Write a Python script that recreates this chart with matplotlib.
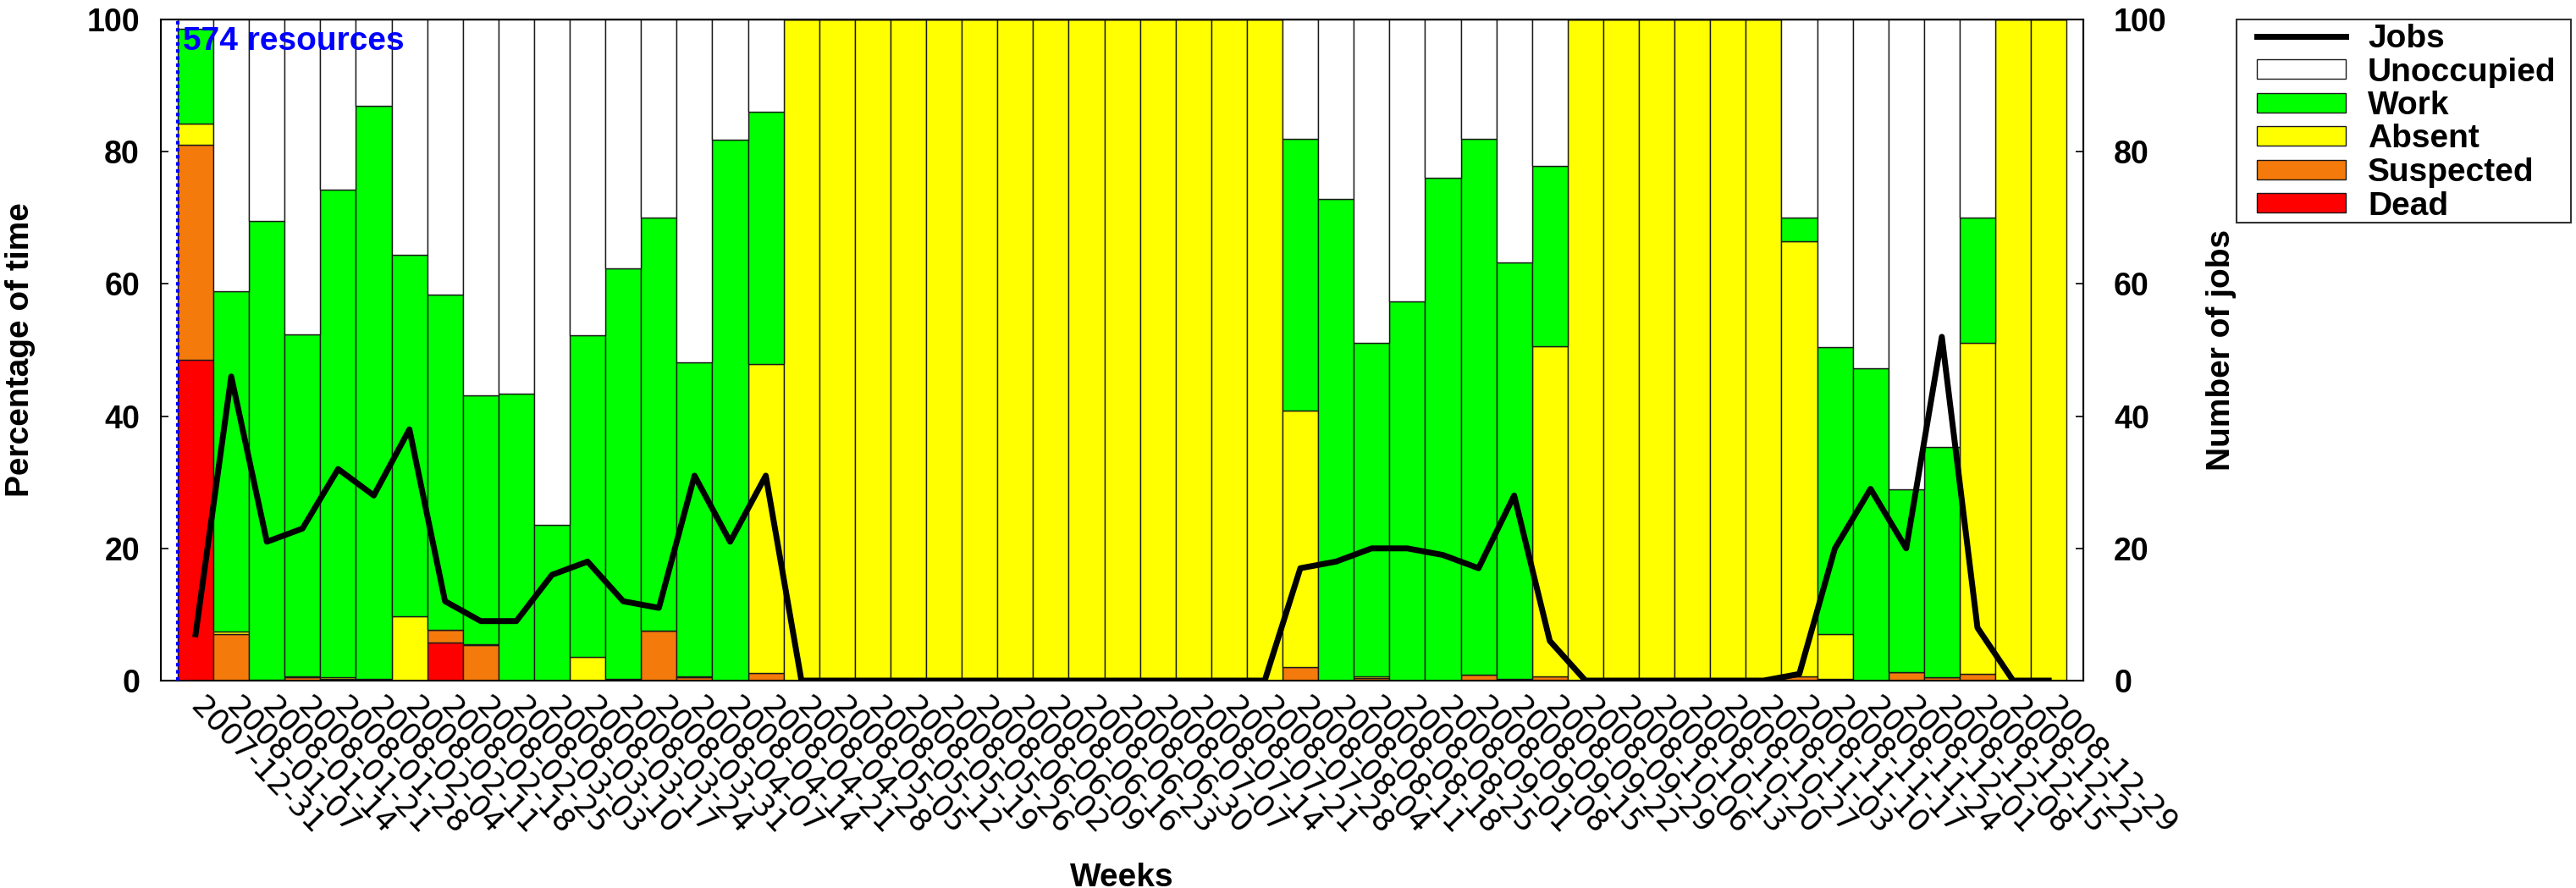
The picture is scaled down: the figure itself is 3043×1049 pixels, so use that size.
import numpy as np
import matplotlib.pyplot as plt
from matplotlib.patches import Rectangle

# Weekly resource state (percentage of time) and number of jobs

weeks = ["2007-12-31", "2008-01-07", "2008-01-14", "2008-01-21", "2008-01-28",
         "2008-02-04", "2008-02-11", "2008-02-18", "2008-02-25", "2008-03-03",
         "2008-03-10", "2008-03-17", "2008-03-24", "2008-03-31", "2008-04-07",
         "2008-04-14", "2008-04-21", "2008-04-28", "2008-05-05", "2008-05-12",
         "2008-05-19", "2008-05-26", "2008-06-02", "2008-06-09", "2008-06-16",
         "2008-06-23", "2008-06-30", "2008-07-07", "2008-07-14", "2008-07-21",
         "2008-07-28", "2008-08-04", "2008-08-11", "2008-08-18", "2008-08-25",
         "2008-09-01", "2008-09-08", "2008-09-15", "2008-09-22", "2008-09-29",
         "2008-10-06", "2008-10-13", "2008-10-20", "2008-10-27", "2008-11-03",
         "2008-11-10", "2008-11-17", "2008-11-24", "2008-12-01", "2008-12-08",
         "2008-12-15", "2008-12-22", "2008-12-29"]

dead = [48.5, 0, 0, 0, 0, 0, 0, 5.8, 0, 0, 0, 0, 0, 0, 0, 0, 0,
        0, 0, 0, 0, 0, 0, 0, 0, 0, 0, 0, 0, 0, 0,
        0, 0, 0, 0, 0, 0, 0, 0,
        0, 0, 0, 0, 0, 0,
        0, 0, 0, 0, 0, 0, 0, 0]
suspected = [32.6, 7.1, 0.1, 0.5, 0.3, 0.1, 0, 1.9, 5.4, 0, 0, 0, 0, 7.6, 0.5, 0, 1.2,
             0, 0, 0, 0, 0, 0, 0, 0, 0, 0, 0, 0, 0, 0,
             2.0, 0, 0.4, 0, 0, 0.9, 0.2, 0.7,
             0, 0, 0, 0, 0, 0,
             0.7, 0.2, 0, 1.3, 0.5, 1.0, 0, 0]
absent = [3.2, 0.3, 0, 0.2, 0.2, 0.2, 9.7, 0, 0.1, 0, 0, 3.6, 0.2, 0, 0.2, 0, 46.7,
          100, 100, 100, 100, 100, 100, 100, 100, 100, 100, 100, 100, 100, 100,
          38.8, 0, 0.3, 0, 0, 0, 0, 49.9,
          100, 100, 100, 100, 100, 100,
          65.8, 6.9, 0, 0, 0, 50.1, 100, 100]
work = [14.3, 51.5, 69.4, 51.7, 73.8, 86.6, 54.7, 50.7, 37.7, 43.4, 23.5, 48.7, 62.1, 62.5, 47.5, 81.8, 38.2,
        0, 0, 0, 0, 0, 0, 0, 0, 0, 0, 0, 0, 0, 0,
        41.2, 72.8, 50.4, 57.4, 76.1, 81.0, 63.1, 27.2,
        0, 0, 0, 0, 0, 0,
        3.6, 43.4, 47.3, 27.6, 34.8, 19.0, 0, 0]
unoccupied = [1.4, 41.1, 30.5, 47.6, 25.7, 13.1, 35.6, 41.6, 56.8, 56.6, 76.5, 47.7, 37.7, 29.9, 51.8, 18.2, 13.9,
              0, 0, 0, 0, 0, 0, 0, 0, 0, 0, 0, 0, 0, 0,
              18.0, 27.2, 48.9, 42.6, 23.9, 18.1, 36.7, 22.2,
              0, 0, 0, 0, 0, 0,
              29.9, 49.5, 52.7, 71.1, 64.7, 29.9, 0, 0]
jobs = [7, 46, 21, 23, 32, 28, 38, 12, 9, 9, 16, 18, 12, 11, 31, 21, 31,
        0, 0, 0, 0, 0, 0, 0, 0, 0, 0, 0, 0, 0, 0,
        17, 18, 20, 20, 19, 17, 28, 6,
        0, 0, 0, 0, 0, 0,
        1, 20, 29, 20, 52, 8, 0, 0]

plt.rcParams['font.family'] = 'Liberation Sans'

W, H = 3043, 1049
fig = plt.figure(figsize=(W / 100, H / 100), dpi=100)
ax = fig.add_axes([190 / W, 1 - 804 / H, 2271 / W, 781 / H])

x = np.arange(len(weeks))
bottom = np.zeros(len(weeks))
layers = [(dead, "Dead", "#ff0000"),
          (suspected, "Suspected", "#f47a0b"),
          (absent, "Absent", "#ffff00"),
          (work, "Work", "#00ff00"),
          (unoccupied, "Unoccupied", "#ffffff")]
bars = {}
for vals, name, col in layers:
    v = np.array(vals, dtype=float)
    bars[name] = ax.bar(x, v, width=1.0, bottom=bottom, color=col,
                        edgecolor="#1a1a1a", linewidth=1.0, label=name)
    bottom += v

ax.set_xlim(-0.975, 52.97)
ax.set_ylim(0, 100)

# marker for the start of the period
ax.axvline(-0.5, color="#0000ff", lw=3, linestyle=(0, (1, 1)), zorder=5)
ax.text(-0.36, 95.4, "574 resources", color="#0000ff", fontsize=28,
        fontweight="bold", ha="left", va="baseline", zorder=6)

ax.set_xticks(x)
ax.set_xticklabels(weeks, rotation=-46, ha="left", va="center",
                   rotation_mode="anchor", fontfamily="DejaVu Sans", fontsize=26)
ax.tick_params(axis="x", length=0, pad=18)

ax.set_yticks(range(0, 101, 20))
ax.tick_params(axis="y", direction="in", length=6.5, width=1.2, labelsize=27, pad=18)
for t in ax.get_yticklabels():
    t.set_fontweight("bold")

for s in ax.spines.values():
    s.set_linewidth(1.5)

ax.set_ylabel("Percentage of time", fontsize=28, fontweight="bold")
ax.yaxis.set_label_coords(-0.0652, 0.5)
ax.set_xlabel("Weeks", fontsize=28, fontweight="bold")
ax.xaxis.set_label_coords(0.5, -0.275)

ax2 = ax.twinx()
line, = ax2.plot(x, jobs, color="black", lw=5, label="Jobs")
ax2.set_ylim(0, 100)
ax2.set_yticks(range(0, 101, 20))
ax2.tick_params(axis="y", direction="in", length=6.5, width=1.2, labelsize=27, pad=26)
for t in ax2.get_yticklabels():
    t.set_fontweight("bold")
ax2.set_ylabel("Number of jobs", fontsize=28, fontweight="bold")
ax2.yaxis.set_label_coords(1.0638, 0.5)

leg_handles = [line, bars["Unoccupied"], bars["Work"], bars["Absent"],
               bars["Suspected"], bars["Dead"]]
leg_labels = ["Jobs", "Unoccupied", "Work", "Absent", "Suspected", "Dead"]
ax2.legend(leg_handles, leg_labels, loc="upper left",
           bbox_to_anchor=(2666 / W, 1 - 28 / H), bbox_transform=fig.transFigure,
           frameon=False, borderpad=0, borderaxespad=0,
           prop={"weight": "bold", "size": 28},
           handlelength=2.7, handleheight=0.52, handletextpad=0.67, labelspacing=0.09)
fig.add_artist(Rectangle((2642 / W, 1 - 263 / H), 395 / W, 240 / H,
                         transform=fig.transFigure, fill=False,
                         edgecolor="#333333", lw=1.5))

fig.savefig("out.png", dpi=100)
